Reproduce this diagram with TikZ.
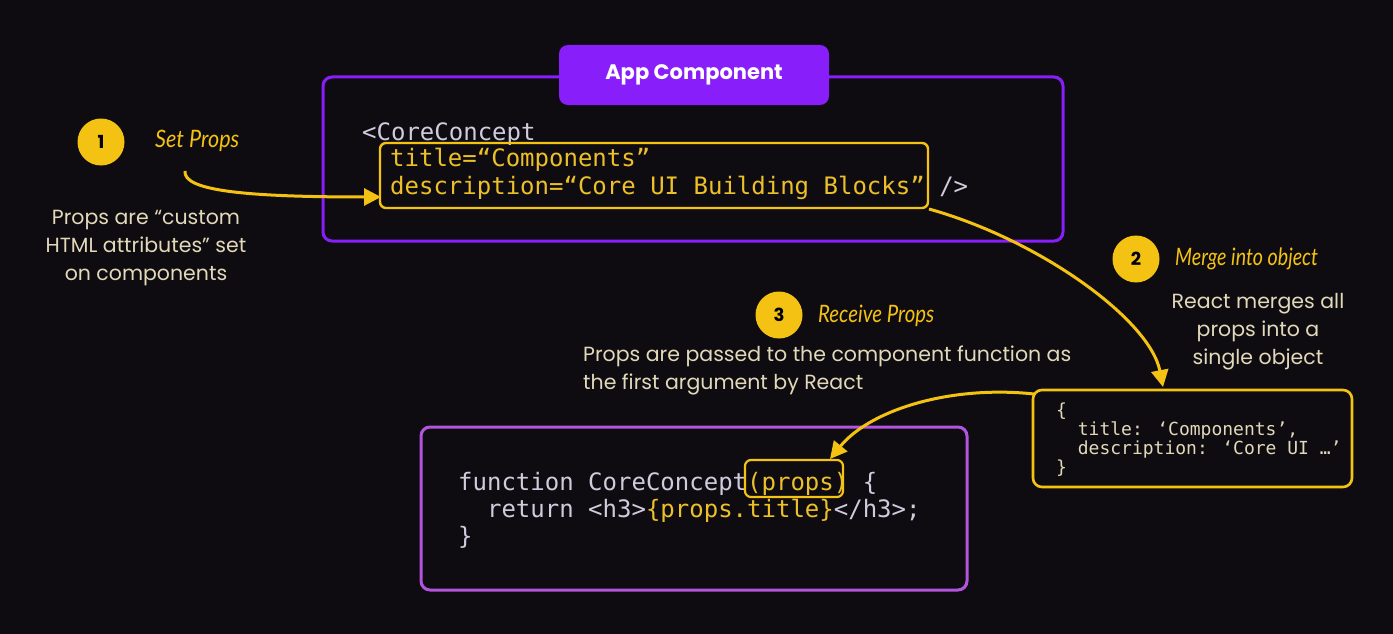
\documentclass[tikz,border=0pt]{standalone}
\usepackage{fontspec}
\setmainfont{Poppins}
\newfontfamily\codefont{DejaVu Sans Mono}
\newfontfamily\handfont{Lato}
\usetikzlibrary{arrows.meta}
\definecolor{bgc}{RGB}{15,12,17}
\definecolor{appviolet}{RGB}{136,30,250}
\definecolor{fnviolet}{RGB}{178,84,222}
\definecolor{ylw}{RGB}{244,194,18}
\definecolor{codeylw}{RGB}{236,192,40}
\definecolor{codegrey}{RGB}{208,204,222}
\definecolor{beige}{RGB}{226,216,186}
\tikzset{
  codebox/.style={rounded corners=9pt, line width=3pt},
  hilite/.style={draw=ylw, rounded corners=6pt, line width=2.4pt},
  numdot/.style={circle, fill=ylw, minimum size=47pt, inner sep=0pt, font=\fontsize{18}{18}\selectfont\bfseries, text=black},
  handlbl/.style={anchor=west, text=ylw, inner sep=0pt, font=\handfont\itshape\fontsize{24}{24}\selectfont},
  note/.style={text=beige, align=center, inner sep=0pt, font=\fontsize{20.5}{28}\selectfont},
  code/.style={anchor=base west, inner sep=0pt, text=codegrey, font=\codefont\fontsize{24}{27}\selectfont},
  objcode/.style={anchor=base west, inner sep=0pt, text=beige, font=\codefont\fontsize{18}{19}\selectfont},
  flow/.style={draw=ylw, line width=3pt, -{Triangle[length=17pt,width=17pt]}},
}
\begin{document}
\begin{tikzpicture}[x=1pt,y=-1pt]
\fill[bgc] (0,0) rectangle (1393,634);
\useasboundingbox (0,0) rectangle (1393,634);

% App component box
\draw[codebox, draw=appviolet] (323,77) rectangle (1063,241);
\node[fill=appviolet, rounded corners=9pt, minimum width=270pt, minimum height=60pt, inner sep=0pt, text=white, font=\fontsize{21}{21}\selectfont\bfseries] (apptitle) at (694,75) {App Component};

\node[code] (l1) at (362,140) {<CoreConcept};
\node[code, text=codeylw] (l2) at (390,166) {title=“Components”};
\node[code, text=codeylw] (l3) at (390,194) {description=“Core UI Building Blocks”\textcolor{codegrey}{\ />}};
\draw[hilite] (380,143) rectangle (928,208);
\coordinate (hlin) at (381,197);
\coordinate (hlout) at (929,209);

% Step 1
\node[numdot] (n1) at (101,142) {1};
\node[handlbl] (s1) at (155,141) {\scalebox{0.9}[1]{Set Props}};
\node[note] (t1) at (146,248) {Props are “custom\\HTML attributes” set\\on components};
\coordinate (a1s) at (185,171);
\draw[flow] (a1s) .. controls (183,190) and (240,197) .. (hlin);

% Step 2
\node[numdot] (n2) at (1136,259) {2};
\node[handlbl] (s2) at (1175,259) {\scalebox{0.82}[1]{Merge into object}};
\node[note] (t2) at (1258,332) {React merges all\\props into a\\single object};

% Object box
\draw[codebox, draw=ylw, line width=2.6pt] (1033,390) rectangle (1352,487);
\node[objcode] (o1) at (1056,416) {\{};
\node[objcode] (o2) at (1056,435) {\ \ title: ‘Components’,};
\node[objcode] (o3) at (1056,454) {\ \ description: ‘Core UI …’};
\node[objcode] (o4) at (1056,473) {\}};
\coordinate (objtop) at (1163,387);
\coordinate (objleft) at (1034,394);
\draw[flow] (hlout) .. controls (1040,240) and (1150,320) .. (objtop);

% Step 3
\node[numdot] (n3) at (779,315) {3};
\node[handlbl] (s3) at (818,316) {\scalebox{0.85}[1]{Receive Props}};
\node[note, align=left, anchor=north west] (t3) at (583,346) {Props are passed to the component function as\\the first argument by React};

% Function box
\draw[codebox, draw=fnviolet] (421,427) rectangle (967,590);
\node[code] (f1) at (458,490) {function CoreConcept\textcolor{codeylw}{(props)} \{};
\node[code] (f2) at (458,517) {\ \ return <h3>\textcolor{codeylw}{\{props.title\}}</h3>;};
\node[code] (f3) at (458,544) {\}};
\draw[hilite, line width=2.2pt] (745,460) rectangle (843,497);
\coordinate (propstop) at (830,459);
\draw[flow] (objleft) .. controls (950,385) and (870,410) .. (propstop);
\end{tikzpicture}
\end{document}
